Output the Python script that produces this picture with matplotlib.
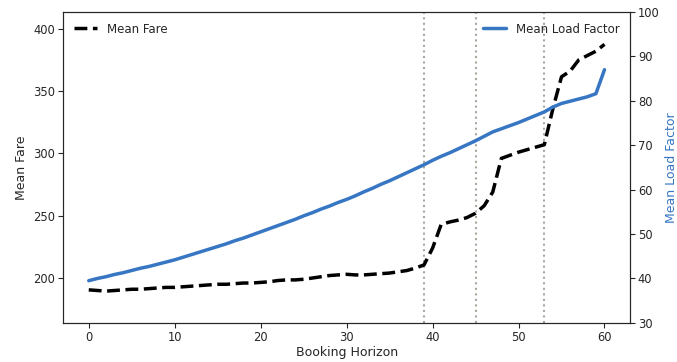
import numpy as np
import matplotlib
matplotlib.use("Agg")
import matplotlib.pyplot as plt
import seaborn as sns

# Datos
horizon = np.arange(0, 61)
mean_fare = [190.5, 190.0, 189.5, 190.0, 190.5, 191.0, 191.0, 191.5, 192.0, 192.5,
             192.5, 193.0, 193.5, 194.0, 194.5, 195.0, 195.0, 195.5, 196.0, 196.0,
             196.5, 197.0, 198.0, 198.5, 198.5, 199.0, 200.0, 201.0, 202.0, 202.5,
             203.0, 202.5, 202.5, 203.0, 203.5, 204.0, 205.0, 206.0, 208.0, 210.5,
             224.0, 243.0, 245.0, 246.5, 248.5, 252.0, 258.0, 269.0, 296.0, 298.5,
             301.0, 303.0, 305.0, 307.0, 336.0, 361.5, 366.0, 375.0, 378.5, 382.0,
             387.5]
mean_load = [39.5, 40.0, 40.4, 40.9, 41.3, 41.8, 42.3, 42.7, 43.2, 43.7,
             44.2, 44.8, 45.4, 46.0, 46.6, 47.2, 47.8, 48.5, 49.1, 49.8,
             50.5, 51.2, 51.9, 52.6, 53.3, 54.1, 54.8, 55.6, 56.3, 57.1,
             57.8, 58.6, 59.5, 60.3, 61.2, 62.0, 62.9, 63.8, 64.7, 65.6,
             66.6, 67.5, 68.3, 69.2, 70.1, 71.0, 72.0, 73.0, 73.7, 74.4,
             75.1, 75.9, 76.7, 77.5, 78.6, 79.4, 79.9, 80.4, 80.9, 81.6,
             87.0]
breakpoints = [39, 45, 53]

sns.set_style("ticks")
plt.rcParams['font.family'] = ['DejaVu Sans']
plt.rcParams['font.size'] = 8.5

blue = '#3776c3'

fig = plt.figure(figsize=(6.77, 3.62), dpi=100)
ax = fig.add_axes([0.093, 0.108, 0.838, 0.859])

for b in breakpoints:
    ax.axvline(b, color='#a8a8a0', linestyle=':', linewidth=1.5)

ax.plot(horizon, mean_fare, color='black', linestyle='--', linewidth=2.5, label='Mean Fare')
ax.set_xlabel('Booking Horizon', color='#262626', fontsize=9, labelpad=2)
ax.set_ylabel('Mean Fare', color='#262626', fontsize=9)
ax.set_ylim(164, 413.5)
ax.set_yticks([200, 250, 300, 350, 400])
ax.legend(loc='upper left', frameon=False, fontsize=8.5)

ax2 = ax.twinx()
ax2.plot(horizon, mean_load, color=blue, linewidth=2.5, label='Mean Load Factor')
ax2.set_ylim(30, 100)
ax2.set_ylabel('Mean Load Factor', color=blue, fontsize=9)
ax2.legend(loc='upper right', frameon=False, fontsize=8.5)

for a in (ax, ax2):
    a.tick_params(colors='#262626', labelsize=8.3, pad=2)
    for s in a.spines.values():
        s.set_color('#262626')

fig.savefig('out.png', dpi=100)
